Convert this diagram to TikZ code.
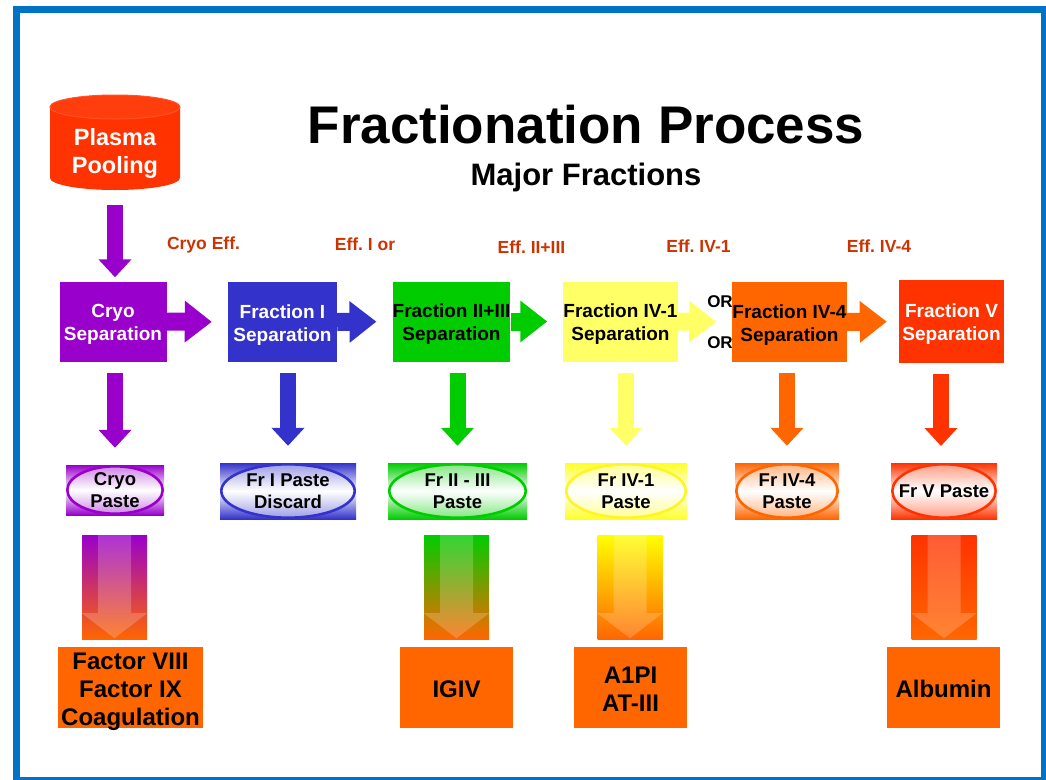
\documentclass[tikz,border=0pt]{standalone}
\usepackage{fontspec}
\setmainfont{Liberation Sans}
\usetikzlibrary{arrows.meta,backgrounds}
\frenchspacing

\definecolor{cryocol}{RGB}{153,0,204}
\definecolor{frIcol}{RGB}{51,51,204}
\definecolor{frIIcol}{RGB}{0,204,0}
\definecolor{frIVacol}{RGB}{255,255,102}
\definecolor{frIVbcol}{RGB}{255,102,0}
\definecolor{frVcol}{RGB}{255,51,0}
\definecolor{effcol}{RGB}{204,51,0}
\definecolor{framecol}{RGB}{0,115,198}

\begin{document}
\begin{tikzpicture}[x=1pt, y=-1pt,
  every node/.style = {inner sep=0pt, align=center},
  sep/.style = {rectangle, fill=#1, minimum width=109pt, minimum height=80pt,
                text height=39pt, text depth=0.4pt,
                font=\fontsize{19}{23}\selectfont\bfseries},
  paste/.style n args = {3}{rectangle, minimum width=#2pt, minimum height=#3pt,
                top color=#1, bottom color=#1, middle color=white,
                path picture={\draw[#1, line width=2.6pt, fill=white, fill opacity=.5]
                  (path picture bounding box.center) ellipse [x radius=#2*0.5pt-1.3pt, y radius=#3*0.5pt-1.3pt];},
                font=\fontsize{18.5}{22}\selectfont\bfseries},
  flow/.style 2 args = {rectangle, minimum width=65pt, minimum height=104pt,
                top color=#1, bottom color=#2},
  product/.style = {rectangle, fill=frIVbcol, minimum width=113pt, minimum height=81pt,
                font=\fontsize{24}{28}\selectfont\bfseries},
  eff/.style = {text=effcol, font=\fontsize{17.5}{20}\selectfont\bfseries},
  harrow/.style = {#1, line width=18pt, -{Triangle[width=40pt,length=27pt]}, shorten >=16pt},
  varrow/.style = {#1, line width=16pt, -{Triangle[width=32pt,length=18pt]}},
  ]
  \useasboundingbox (0,0) rectangle (1046,779);
  \draw[framecol, line width=7pt] (16.5,9) rectangle (1044.5,780.5);

  \node[font=\fontsize{53}{60}\selectfont\bfseries] (title) at (586,125) {Fractionation Process};
  \node[font=\fontsize{31}{36}\selectfont\bfseries] (subtitle) at (586,177) {Major Fractions};

  \fill[frVcol] (50,107) -- (50,178) arc[start angle=180, end angle=360, x radius=65pt, y radius=12pt]
    -- (180,107) arc[start angle=0, end angle=180, x radius=65pt, y radius=12pt] -- cycle;
  \draw[frVcol!85!white, fill=frVcol!95!white, line width=1pt] (115,107) ellipse [x radius=65pt, y radius=12pt];
  \node[text=white, minimum width=130pt, minimum height=78pt, font=\fontsize{23.5}{28}\selectfont\bfseries]
    (plasma) at (115,153) {Plasma\\Pooling};

  \node[sep=cryocol, text=white, minimum width=107pt] (cryo) at (113,321.5) {Cryo\\Separation};
  \node[sep=frIcol, text=white] (fri) at (282.5,322) {Fraction I\\Separation};
  \node[sep=frIIcol] (friii) at (451.5,321.5) {Fraction II+III\\Separation};
  \node[sep=frIVacol] (friva) at (620.5,321.5) {Fraction IV-1\\Separation};
  \node[sep=frIVbcol] (frivb) at (789.5,322) {Fraction IV-4\\Separation};
  \node[sep=frVcol, text=white, minimum width=105pt, minimum height=83pt] (frv) at (951.5,321.5) {Fraction V\\Separation};

  \node[eff] (effcryo) at (203.5,245) {Cryo Eff.};
  \node[eff] (effi) at (365,244) {Eff. I or};
  \node[eff] (effiii) at (531.5,247) {Eff. II+III};
  \node[eff] (effiva) at (698.5,246) {Eff. IV-1};
  \node[eff] (effivb) at (879,246) {Eff. IV-4};
  \node[font=\fontsize{17}{20}\selectfont\bfseries] (ora) at (720,302) {OR};
  \node[font=\fontsize{17}{20}\selectfont\bfseries] (orb) at (720,343) {OR};

  \node[paste={cryocol}{98}{50}] (cryopaste) at (115,490) {Cryo\\Paste};
  \node[paste={frIcol}{136}{56}] (fripaste) at (288,491) {Fr I Paste\\Discard};
  \node[paste={frIIcol}{139}{56}] (friiipaste) at (457.5,491) {Fr II - III\\Paste};
  \node[paste={yellow!85!white}{122}{56}] (frivapaste) at (626,491) {Fr IV-1\\Paste};
  \node[paste={frIVbcol}{104}{56}] (frivbpaste) at (787,491) {Fr IV-4\\Paste};
  \node[paste={frVcol}{106}{56}] (frvpaste) at (944,491) {Fr V Paste};

  \node[flow={cryocol}{frIVbcol}] (cryoflow) at (114.5,587) {};
  \node[flow={frIIcol}{frIVbcol}] (friiiflow) at (456.5,587) {};
  \node[flow={yellow}{frIVbcol}] (frivaflow) at (630,587) {};
  \node[flow={frVcol}{frIVbcol}] (frvflow) at (944,587) {};
  \foreach \f in {cryoflow, friiiflow, frivaflow, frvflow}
    \fill[white, opacity=.2] ([xshift=-16.5pt]\f.north) -- ([xshift=16.5pt]\f.north)
      -- ([xshift=16.5pt, yshift=26pt]\f.south) -- ([yshift=26pt]\f.south east)
      -- ([yshift=1pt]\f.south) -- ([yshift=26pt]\f.south west)
      -- ([xshift=-16.5pt, yshift=26pt]\f.south) -- cycle;

  \node[product, minimum width=145pt, text height=77pt, text depth=0.8pt] (cryoprod) at (130.5,687.5) {Factor VIII\\Factor IX\\Coagulation};
  \node[product, text height=20.2pt, text depth=0pt] (igiv) at (456.5,687.5) {IGIV};
  \node[product, text height=48.2pt, text depth=0pt] (aipi) at (630.5,687.5) {A1PI\\AT-III};
  \node[product, text height=20.2pt, text depth=0pt] (albumin) at (943.5,687.5) {Albumin};

  \begin{scope}[on background layer]
    \draw[harrow=cryocol] (cryo.east) -- (fri.west);
    \draw[harrow=frIcol] (fri.east) -- (friii.west);
    \draw[harrow=frIIcol] (friii.east) -- (friva.west);
    \draw[harrow=frIVacol] (friva.east) -- (frivb.west);
    \draw[harrow=frIVbcol, shorten >=12pt] (frivb.east) -- (frv.west);
  \end{scope}

  \draw[varrow=cryocol, shorten <=13pt, shorten >=4pt] (plasma.south) -- (plasma.south |- cryo.north);
  \draw[varrow=cryocol, shorten <=11pt, shorten >=17pt] (cryo.south -| cryopaste.north) -- (cryopaste.north);
  \draw[varrow=frIcol, shorten <=11pt, shorten >=17pt] (fri.south -| fripaste.north) -- (fripaste.north);
  \draw[varrow=frIIcol, shorten <=11pt, shorten >=17pt] (friii.south -| friiipaste.north) -- (friiipaste.north);
  \draw[varrow=frIVacol, shorten <=11pt, shorten >=17pt] (friva.south -| frivapaste.north) -- (frivapaste.north);
  \draw[varrow=frIVbcol, shorten <=11pt, shorten >=17pt] (frivb.south -| frivbpaste.north) -- (frivbpaste.north);
  \draw[varrow=frVcol, shorten <=11pt, shorten >=17pt] (frv.south -| 941,0) -- (941,463);
\end{tikzpicture}
\end{document}
